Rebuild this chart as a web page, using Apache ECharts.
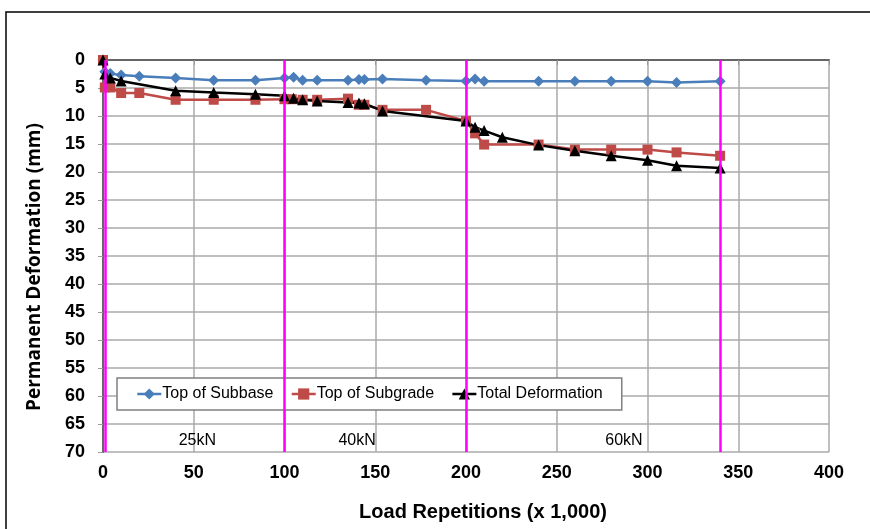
<!DOCTYPE html>
<html>
<head>
<meta charset="utf-8">
<title>Permanent Deformation</title>
<script src="https://cdn.jsdelivr.net/npm/echarts@6/dist/echarts.min.js"></script>
<style>
  html, body { margin: 0; padding: 0; background: #fff; }
  #main { width: 870px; height: 529px; }
</style>
</head>
<body>
<div id="main"></div>
<script>
// 数据 (x 1,000 次, mm)
var subbaseX = [0, 1, 4, 10, 20, 40, 61, 84, 100, 105, 110, 118, 135, 141, 144, 154, 178, 200, 205, 210, 240, 260, 280, 300, 316, 340]
var subbaseY = [0, 2.1, 2.4, 2.7, 2.9, 3.2, 3.6, 3.6, 3.2, 3.1, 3.6, 3.6, 3.6, 3.5, 3.5, 3.4, 3.6, 3.75, 3.4, 3.8, 3.8, 3.8, 3.8, 3.8, 4.0, 3.8]
var subgradeX = [0, 1, 4, 10, 20, 40, 61, 84, 100, 104, 110, 118, 135, 141, 144, 154, 178, 200, 205, 210, 240, 260, 280, 300, 316, 340]
var subgradeY = [0, 4.9, 4.9, 5.9, 5.9, 7.1, 7.1, 7.1, 7.0, 7.0, 7.1, 7.1, 6.9, 8.0, 8.0, 8.9, 8.9, 10.9, 13.1, 15.1, 15.1, 16.0, 16.0, 16.0, 16.5, 17.1]
var totalX = [0, 1, 4, 10, 40, 61, 84, 100, 105, 110, 118, 135, 141, 144, 154, 200, 205, 210, 220, 240, 260, 280, 300, 316, 340]
var totalY = [0, 2.5, 3.2, 3.75, 5.5, 5.8, 6.1, 6.4, 6.85, 7.1, 7.3, 7.6, 7.7, 7.8, 9.1, 10.9, 12.0, 12.6, 13.8, 15.2, 16.2, 17.1, 17.9, 18.9, 19.3]
// 荷载分段线和标注
var stageX = [1, 100, 200, 340]
var stageLabelX = [52, 140, 287]
var stageLabelY = [68, 68, 68]
var stageLabels = ['25kN', '40kN', '60kN']

function pairs (xs, ys) {
  var out = []
  for (var i = 0; i < xs.length; i++) {
    out.push([xs[i], ys[i]])
  }
  return out
}

var labelData = []
for (var i = 0; i < stageLabels.length; i++) {
  labelData.push({ name: stageLabels[i], value: [stageLabelX[i], stageLabelY[i]] })
}

var axisFont = { fontFamily: 'Liberation Sans, Arial', fontWeight: 'bold', fontSize: 18, color: '#000' }

var myChart = echarts.init(document.getElementById('main'))
var option = {
  animation: false,
  backgroundColor: '#fff',
  graphic: [
    {
      // 外框
      type: 'rect',
      shape: { x: 6, y: 12, width: 900, height: 600 },
      style: { fill: 'none', stroke: '#000', lineWidth: 1.5 },
      silent: true
    }
  ],
  grid: { left: 103, right: 41, top: 60, bottom: 77 },
  legend: {
    data: ['Top of Subbase', 'Top of Subgrade', 'Total Deformation'],
    left: 117,
    top: 378,
    padding: [8, 19, 8, 19],
    itemGap: 17,
    itemWidth: 24,
    itemHeight: 14,
    backgroundColor: '#fff',
    borderColor: '#808080',
    borderWidth: 1.5,
    lineStyle: { width: 2.5 },
    textStyle: { fontFamily: 'Liberation Sans, Arial', fontSize: 16, color: '#000', padding: [0, 0, 0, -4] }
  },
  xAxis: [
    {
      type: 'value',
      min: 0,
      max: 400,
      interval: 50,
      name: 'Load Repetitions (x 1,000)',
      nameLocation: 'middle',
      nameGap: 50,
      nameTextStyle: { fontFamily: 'Liberation Sans, Arial', fontWeight: 'bold', fontSize: 20, color: '#000', padding: [0, 0, 0, 34] },
      axisLine: { show: true, lineStyle: { color: '#999', width: 1.5 } },
      axisTick: { show: true, inside: false, length: 5, lineStyle: { color: '#999' } },
      axisLabel: Object.assign({ margin: 12 }, axisFont),
      splitLine: { show: true, lineStyle: { color: '#aaa', width: 1.5 } }
    },
    {
      // 顶部深色边框
      type: 'value',
      position: 'top',
      min: 0,
      max: 400,
      axisLine: { show: true, lineStyle: { color: '#666', width: 2 } },
      axisTick: { show: false },
      axisLabel: { show: false },
      splitLine: { show: false }
    }
  ],
  yAxis: [
    {
      type: 'value',
      inverse: true,
      min: 0,
      max: 70,
      interval: 5,
      name: 'Permanent Deformation (mm)',
      nameLocation: 'middle',
      nameGap: 59,
      nameTextStyle: { fontFamily: 'Open Sans', fontWeight: 'bold', fontSize: 19, color: '#000', padding: [0, 22, 0, 0] },
      axisLine: { show: true, lineStyle: { color: '#999', width: 1.5 } },
      axisTick: { show: true, length: 5, lineStyle: { color: '#999' } },
      axisLabel: Object.assign({ margin: 18 }, axisFont),
      splitLine: { show: true, lineStyle: { color: '#aaa', width: 1.5 } }
    },
    {
      // 右侧深色边框
      type: 'value',
      position: 'right',
      inverse: true,
      min: 0,
      max: 70,
      axisLine: { show: true, lineStyle: { color: '#666', width: 2 } },
      axisTick: { show: false },
      axisLabel: { show: false },
      splitLine: { show: false }
    }
  ],
  series: [
    {
      // 分段线
      name: 'stages',
      type: 'line',
      data: [],
      markLine: {
        silent: true,
        symbol: ['none', 'none'],
        label: { show: false },
        lineStyle: { color: '#ff00ff', width: 2.5, type: 'solid' },
        data: stageX.map(function (x) { return { xAxis: x } })
      }
    },
    {
      name: 'stageLabels',
      type: 'scatter',
      symbolSize: 1,
      z: 5,
      itemStyle: { opacity: 0 },
      data: labelData,
      label: {
        show: true,
        position: 'top',
        distance: -8,
        formatter: '{b}',
        fontFamily: 'Liberation Sans, Arial',
        fontSize: 16,
        color: '#000',
        opacity: 1
      },
      silent: true
    },
    {
      name: 'Top of Subbase',
      type: 'line',
      data: pairs(subbaseX, subbaseY),
      symbol: 'diamond',
      symbolSize: 11,
      itemStyle: { color: '#4a7ebb' },
      lineStyle: { color: '#4a7ebb', width: 2.5 }
    },
    {
      name: 'Top of Subgrade',
      type: 'line',
      data: pairs(subgradeX, subgradeY),
      symbol: 'rect',
      symbolSize: 10,
      itemStyle: { color: '#be4b48' },
      lineStyle: { color: '#be4b48', width: 2.5 }
    },
    {
      name: 'Total Deformation',
      type: 'line',
      data: pairs(totalX, totalY),
      symbol: 'triangle',
      symbolSize: 11,
      itemStyle: { color: '#000' },
      lineStyle: { color: '#000', width: 2.5 }
    }
  ]
}
myChart.setOption(option)
</script>
</body>
</html>
